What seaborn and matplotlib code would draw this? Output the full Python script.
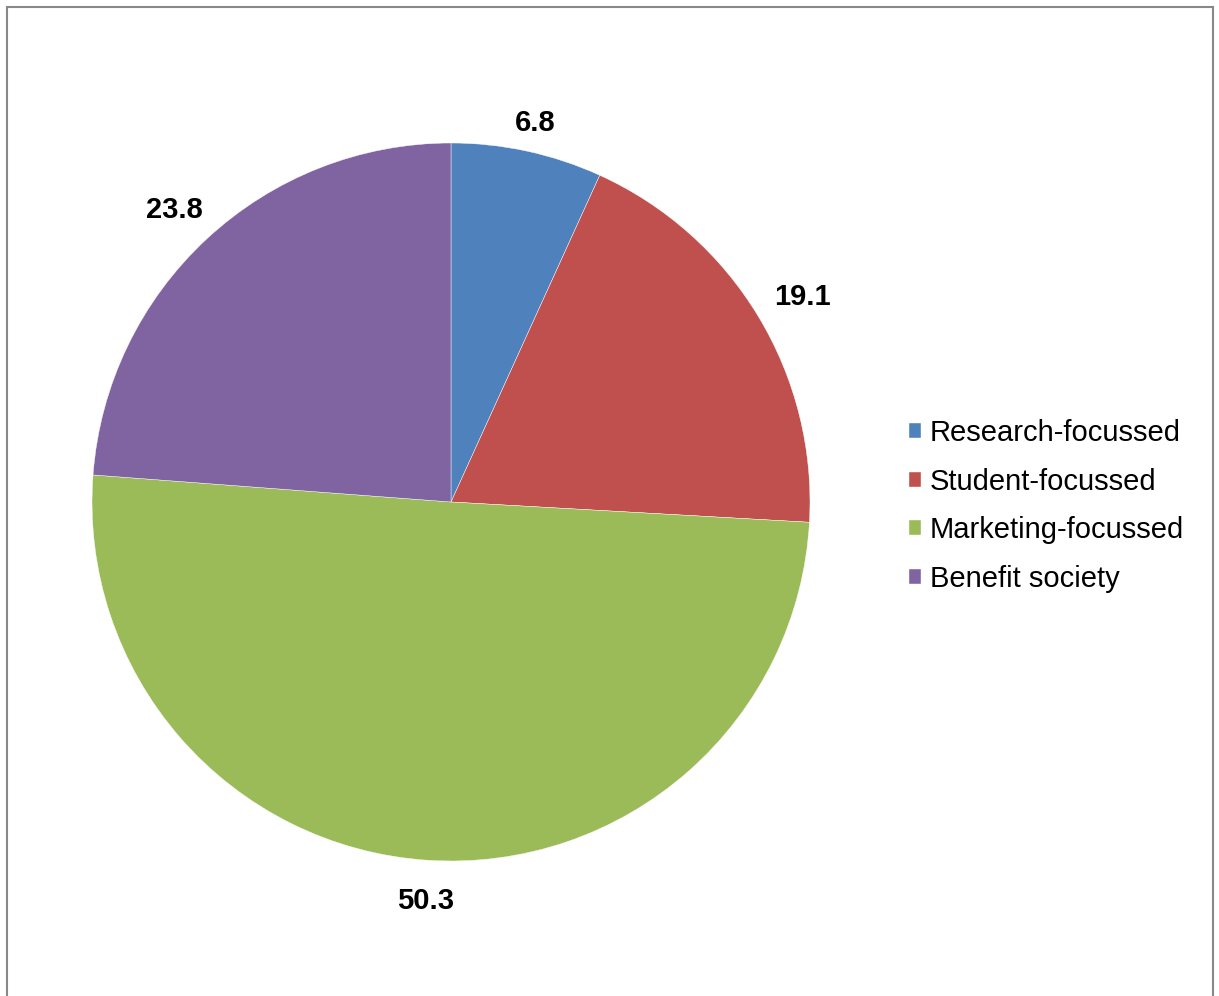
import numpy as np
import matplotlib.pyplot as plt
import seaborn as sns
from matplotlib.patches import Rectangle

sns.set_theme(style="white")
plt.rcParams['font.family'] = ['Liberation Sans', 'DejaVu Sans']
plt.rcParams['text.color'] = 'black'

categories = ["Research-focussed", "Student-focussed", "Marketing-focussed", "Benefit society"]
values = [6.8, 19.1, 50.3, 23.8]
colors = ["#4F81BD", "#C0504D", "#9BBB59", "#8064A2"]

fig = plt.figure(figsize=(12.19, 9.96), dpi=100)
# pie centre (451, 502) px, radius 359 px
ax = fig.add_axes([92 / 1219, 135 / 996, 718 / 1219, 718 / 996])

wedges, texts, autotexts = ax.pie(
    values, colors=colors, startangle=90, counterclock=False,
    autopct=lambda p: f"{p:.1f}", pctdistance=1.1,
    wedgeprops=dict(edgecolor="white", linewidth=0.3),
    textprops=dict(fontsize=21, fontweight="bold", color="black"),
)
ax.set_xlim(-1, 1)
ax.set_ylim(-1, 1)
ax.set_aspect("equal")
ax.axis("off")

# push each label out so its box sits just outside the pie (Excel-like)
fig.canvas.draw()
renderer = fig.canvas.get_renderer()
px_per_unit = 359.0
for w, t in zip(wedges, autotexts):
    ang = np.deg2rad((w.theta1 + w.theta2) / 2)
    ux, uy = np.cos(ang), np.sin(ang)
    bb = t.get_window_extent(renderer)
    extra = (abs(ux) * bb.width / 2 + abs(uy) * bb.height / 2 * 0.75) / px_per_unit
    r = 1.06 + extra
    t.set_position((r * ux, r * uy - 7 / px_per_unit))

fig.legend(wedges, categories, loc="center left", bbox_to_anchor=(909 / 1219, 1 - 506 / 996),
           frameon=False, fontsize=21, handlelength=0.41, handleheight=0.41,
           handletextpad=0.3, labelspacing=0.7, borderaxespad=0, borderpad=0,
           labelcolor="black")

fig.patches.append(Rectangle((6.5 / 1219, -0.01), (1212.5 - 6.5) / 1219, 1 - 6.5 / 996 + 0.01,
                             transform=fig.transFigure, fill=False, edgecolor="#888888",
                             linewidth=1.5))

fig.savefig("out.png", dpi=100, facecolor="white")
